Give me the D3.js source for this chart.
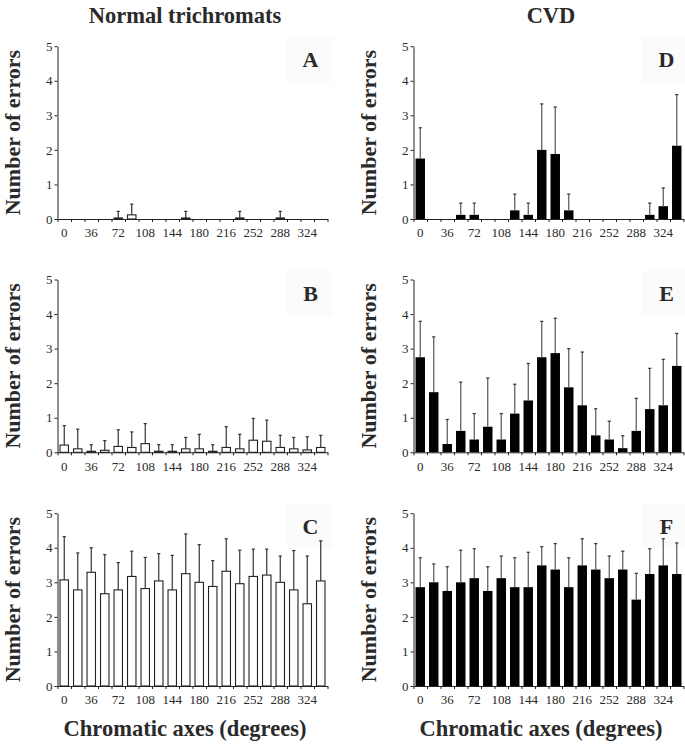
<!DOCTYPE html>
<html>
<head>
<meta charset="utf-8">
<script src="https://cdn.jsdelivr.net/npm/d3@7"></script>
<style>
  html, body { margin: 0; padding: 0; background: #fff; }
  svg { display: block; }
  text { font-family: "Liberation Serif", "Times New Roman", serif; fill: #2a2a2a; }
</style>
</head>
<body>
<svg id="chart" width="685" height="747"></svg>
<script>
// ---- data ----
const categories = d3.range(0, 360, 18);           // chromatic axes (deg)
const tickLabels = [0, 36, 72, 108, 144, 180, 216, 252, 288, 324];
const columnTitles = ["Normal trichromats", "CVD"];
const yTicks = [0, 1, 2, 3, 4, 5];

const meanA = [0,0,0,0,0.03,0.12,0,0,0,0.03,0,0,0,0.03,0,0,0.03,0,0,0];
const sdA   = [0,0,0,0,0.19,0.31,0,0,0,0.19,0,0,0,0.19,0,0,0.19,0,0,0];

const meanB = [0.21,0.10,0.03,0.06,0.17,0.14,0.25,0.03,0.03,0.10,0.10,0.03,0.14,0.10,0.35,0.32,0.14,0.10,0.07,0.14];
const sdB   = [0.56,0.57,0.19,0.28,0.48,0.45,0.58,0.19,0.19,0.33,0.42,0.19,0.60,0.42,0.63,0.61,0.35,0.33,0.38,0.35];

const meanC = [3.07,2.78,3.29,2.67,2.78,3.17,2.82,3.04,2.78,3.25,3.00,2.88,3.32,2.96,3.17,3.21,3.00,2.78,2.38,3.04];
const sdC   = [1.25,1.07,0.71,1.13,0.79,0.73,0.90,0.79,1.00,1.15,1.09,0.75,0.94,0.97,0.79,0.75,0.76,1.14,1.38,1.16];

const meanD = [1.75,0,0,0.12,0.12,0,0,0.25,0.12,2.00,1.88,0.25,0,0,0,0,0,0.12,0.37,2.12];
const sdD   = [0.89,0,0,0.34,0.34,0,0,0.47,0.34,1.33,1.36,0.47,0,0,0,0,0,0.34,0.53,1.48];

const meanE = [2.75,1.74,0.24,0.62,0.37,0.74,0.37,1.12,1.50,2.75,2.87,1.88,1.36,0.49,0.37,0.12,0.62,1.25,1.36,2.50];
const sdE   = [1.04,1.60,0.71,1.41,0.75,1.41,0.75,0.85,1.07,1.04,1.01,1.12,1.54,0.77,0.53,0.36,0.94,1.18,1.33,0.94];

const meanF = [2.86,3.00,2.75,3.00,3.12,2.75,3.12,2.86,2.86,3.49,3.37,2.86,3.49,3.37,3.12,3.37,2.50,3.24,3.49,3.24];
const sdF   = [0.85,0.53,0.70,0.93,0.85,0.70,0.64,0.85,1.01,0.54,0.75,0.85,0.77,0.75,0.64,0.53,0.76,0.73,0.77,0.90];

const panels = [
  {letter: "A", mean: meanA, sd: sdA, col: 0, row: 0},
  {letter: "B", mean: meanB, sd: sdB, col: 0, row: 1},
  {letter: "C", mean: meanC, sd: sdC, col: 0, row: 2},
  {letter: "D", mean: meanD, sd: sdD, col: 1, row: 0},
  {letter: "E", mean: meanE, sd: sdE, col: 1, row: 1},
  {letter: "F", mean: meanF, sd: sdF, col: 1, row: 2}
];

// ---- layout ----
const svg = d3.select("#chart");
const colX = [57.5, 413.5];
const rowY0 = [219, 452.3, 686];
const plotW = 270, plotH = 172.8;
const ink = "#222";
const serif = '"Liberation Serif", "Times New Roman", serif';

const x = d3.scaleBand().domain(categories).range([0, plotW]).paddingInner(0.3).paddingOuter(0.15);
const xBound = d3.scaleLinear().domain([0, categories.length]).range([0, plotW]);
const y = d3.scaleLinear().domain([0, 5]).range([plotH, 0]);

panels.forEach(p => {
  const g = svg.append("g").attr("transform", `translate(${colX[p.col]},${rowY0[p.row] - plotH})`);
  const filled = p.col === 1;

  // letter box
  g.append("rect").attr("x", 229).attr("y", -9).attr("width", 46).attr("height", 45).attr("fill", "#fbfbfb");
  g.append("text").attr("x", 253).attr("y", 21)
    .attr("text-anchor", "middle").attr("font-size", 22).attr("font-weight", "bold")
    .style("font-family", serif)
    .text(p.letter);

  const data = categories.map((c, i) => ({c, m: p.mean[i], s: p.sd[i]}));

  // bars
  g.selectAll("rect.bar").data(data.filter(d => d.m > 0)).join("rect")
    .attr("class", "bar")
    .attr("x", d => x(d.c) + (filled ? 0 : 0.5))
    .attr("y", d => y(d.m))
    .attr("width", x.bandwidth() - (filled ? 0 : 1))
    .attr("height", d => plotH - y(d.m))
    .attr("fill", filled ? "#000" : "#fff")
    .attr("stroke", filled ? "none" : ink)
    .attr("stroke-width", 1.1);

  // error bars (upper only)
  const eb = g.selectAll("g.err").data(data.filter(d => d.s > 0)).join("g").attr("class", "err");
  eb.append("line")
    .attr("x1", d => x(d.c) + x.bandwidth() / 2).attr("x2", d => x(d.c) + x.bandwidth() / 2)
    .attr("y1", d => y(d.m)).attr("y2", d => y(d.m + d.s))
    .attr("stroke", filled ? "#555" : "#333").attr("stroke-width", 1.2);
  eb.append("line")
    .attr("x1", d => x(d.c) + x.bandwidth() / 2 - 1.6).attr("x2", d => x(d.c) + x.bandwidth() / 2 + 1.6)
    .attr("y1", d => y(d.m + d.s)).attr("y2", d => y(d.m + d.s))
    .attr("stroke", "#333").attr("stroke-width", 1.2);

  // y axis
  const ya = g.append("g").call(d3.axisLeft(y).tickValues(yTicks).tickSize(3).tickSizeOuter(0).tickFormat(d3.format("d")));
  ya.attr("font-family", null);
  ya.select(".domain").attr("stroke", ink);
  ya.selectAll(".tick line").attr("stroke", ink);
  ya.selectAll(".tick text").attr("font-size", 13).style("font-family", serif).attr("fill", "#2a2a2a").attr("x", -5);

  // x axis: boundary ticks
  const xa = g.append("g").attr("transform", `translate(0,${plotH})`)
    .call(d3.axisBottom(xBound).tickValues(d3.range(0, categories.length + 1)).tickSize(3).tickSizeOuter(0).tickFormat(""));
  xa.select(".domain").attr("stroke", ink);
  xa.selectAll(".tick line").attr("stroke", ink);

  // x labels at band centres
  const xl = g.append("g").attr("transform", `translate(0,${plotH})`)
    .call(d3.axisBottom(x).tickValues(tickLabels).tickSize(0).tickPadding(9));
  xl.attr("font-family", null);
  xl.select(".domain").remove();
  xl.selectAll(".tick text").attr("font-size", 13).style("font-family", serif).attr("fill", "#2a2a2a");

  // y label
  g.append("text")
    .attr("transform", `translate(${-38},${plotH / 2}) rotate(-90)`)
    .attr("text-anchor", "middle").attr("font-size", 22).attr("font-weight", "bold")
    .style("font-family", serif)
    .text("Number of errors");
});

// column titles
svg.selectAll("text.title").data(columnTitles).join("text")
  .attr("class", "title")
  .attr("x", (d, i) => [185, 551][i]).attr("y", 23)
  .attr("text-anchor", "middle").attr("font-size", 22.5).attr("font-weight", "bold")
  .style("font-family", serif)
  .text(d => d);

// x axis titles
svg.selectAll("text.xtitle").data([0, 1]).join("text")
  .attr("class", "xtitle")
  .attr("x", i => [185, 541][i]).attr("y", 736)
  .attr("text-anchor", "middle").attr("font-size", 22.5).attr("font-weight", "bold")
  .style("font-family", serif)
  .text("Chromatic axes (degrees)");
</script>
</body>
</html>
